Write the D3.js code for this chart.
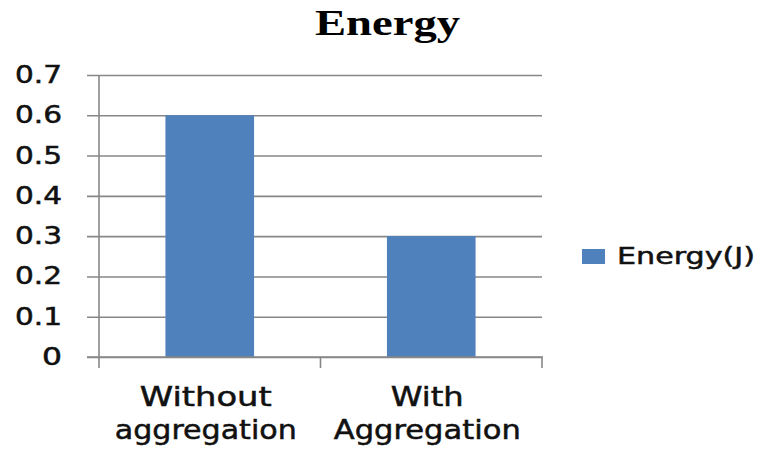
<!DOCTYPE html>
<html>
<head>
<meta charset="utf-8">
<script src="https://cdn.jsdelivr.net/npm/d3@7"></script>
<style>
  html, body { margin: 0; padding: 0; background: #fff; }
  svg { display: block; }
  .lbl { paint-order: stroke; stroke: #111; stroke-width: 0.5px; }
</style>
</head>
<body>
<svg id="chart" width="758" height="450"></svg>
<script>
// Chart data
const categories = [["Without", "aggregation"], ["With", "Aggregation"]];
const energyValues = [0.6, 0.3];
const yTicks = [0, 0.1, 0.2, 0.3, 0.4, 0.5, 0.6, 0.7];
const seriesName = "Energy(J)";
const chartTitle = "Energy";

const svg = d3.select("#chart");
const W = 758, H = 450;
const plot = { left: 99, right: 542, top: 75, bottom: 357 };
const gridColor = "#878787";
const barColor = "#4F81BD";
const sans = "'DejaVu Sans', Verdana, sans-serif";

// Text widths after horizontal stretching
const textWidths = {
  "Energy": 145,
  "0": 20,
  "Without": 132, "aggregation": 182,
  "With": 73, "Aggregation": 187,
  "Energy(J)": 138
};
function fit(sel) {
  sel.each(function () {
    const t = d3.select(this).text();
    const w = textWidths[t] || (t.length === 3 ? 47 : null);
    if (w) d3.select(this).attr("textLength", w).attr("lengthAdjust", "spacingAndGlyphs");
  });
}

svg.append("rect").attr("width", W).attr("height", H).attr("fill", "#fff");

const catKeys = categories.map(c => c.join(" "));
const x = d3.scaleBand().domain(catKeys).range([plot.left, plot.right]);
const y = d3.scaleLinear().domain([0, 0.7]).range([plot.bottom, plot.top]);

// Horizontal gridlines with left tick marks
const yAxis = d3.axisLeft(y).tickValues(yTicks).tickSize(plot.right - plot.left + 12)
  .tickFormat(d => d3.format("~g")(d));
const gy = svg.append("g").attr("transform", `translate(${plot.right},0)`).call(yAxis);
gy.select(".domain").remove();
gy.selectAll(".tick line").attr("stroke", gridColor).attr("stroke-width", 1.6);
gy.selectAll(".tick text").remove();

// Y tick labels
svg.append("g").selectAll("text").data(yTicks).join("text")
  .attr("class", "lbl")
  .attr("x", 62).attr("y", d => y(d) + 8)
  .attr("text-anchor", "end")
  .attr("font-family", sans).attr("font-size", 24).attr("fill", "#111")
  .text(d => d3.format("~g")(d))
  .call(fit);

// Bars
svg.append("g").selectAll("rect").data(energyValues).join("rect")
  .attr("x", (d, i) => x(catKeys[i]) + x.bandwidth() * 0.3)
  .attr("width", x.bandwidth() * 0.4)
  .attr("y", d => y(d))
  .attr("height", d => y(0) - y(d))
  .attr("fill", barColor);

// Y axis line
svg.append("line")
  .attr("x1", plot.left).attr("x2", plot.left)
  .attr("y1", plot.top).attr("y2", plot.bottom + 11)
  .attr("stroke", gridColor).attr("stroke-width", 1.6);

// X axis with boundary ticks
const gx = svg.append("g");
gx.append("line")
  .attr("x1", plot.left - 12).attr("x2", plot.right + 1)
  .attr("y1", plot.bottom).attr("y2", plot.bottom)
  .attr("stroke", gridColor).attr("stroke-width", 1.6);
const boundaries = catKeys.map(k => x(k)).concat([x(catKeys[catKeys.length - 1]) + x.bandwidth()]);
gx.selectAll("line.tk").data(boundaries.slice(1)).join("line").attr("class", "tk")
  .attr("x1", d => d).attr("x2", d => d)
  .attr("y1", plot.bottom).attr("y2", plot.bottom + 11)
  .attr("stroke", gridColor).attr("stroke-width", 1.6);

// Category labels (two lines each)
categories.forEach((lines, i) => {
  const cx = x(catKeys[i]) + x.bandwidth() / 2 - 4;
  svg.append("g").selectAll("text").data(lines).join("text")
    .attr("class", "lbl")
    .attr("x", cx).attr("y", (d, j) => 406 + j * 33)
    .attr("text-anchor", "middle")
    .attr("font-family", sans).attr("font-size", 26).attr("fill", "#111")
    .text(d => d)
    .call(fit);
});

// Title
svg.append("text")
  .attr("x", 387.5).attr("y", 35)
  .attr("text-anchor", "middle")
  .attr("font-family", "'Liberation Serif', 'Times New Roman', serif")
  .attr("font-weight", "bold").attr("font-size", 35).attr("fill", "#000")
  .text(chartTitle)
  .call(fit);

// Legend
const lg = svg.append("g");
lg.append("rect").attr("x", 582).attr("y", 249).attr("width", 23).attr("height", 15).attr("fill", barColor);
lg.append("text")
  .attr("class", "lbl")
  .attr("x", 617).attr("y", 264)
  .attr("font-family", sans).attr("font-size", 23).attr("fill", "#111")
  .text(seriesName)
  .call(fit);
</script>
</body>
</html>
